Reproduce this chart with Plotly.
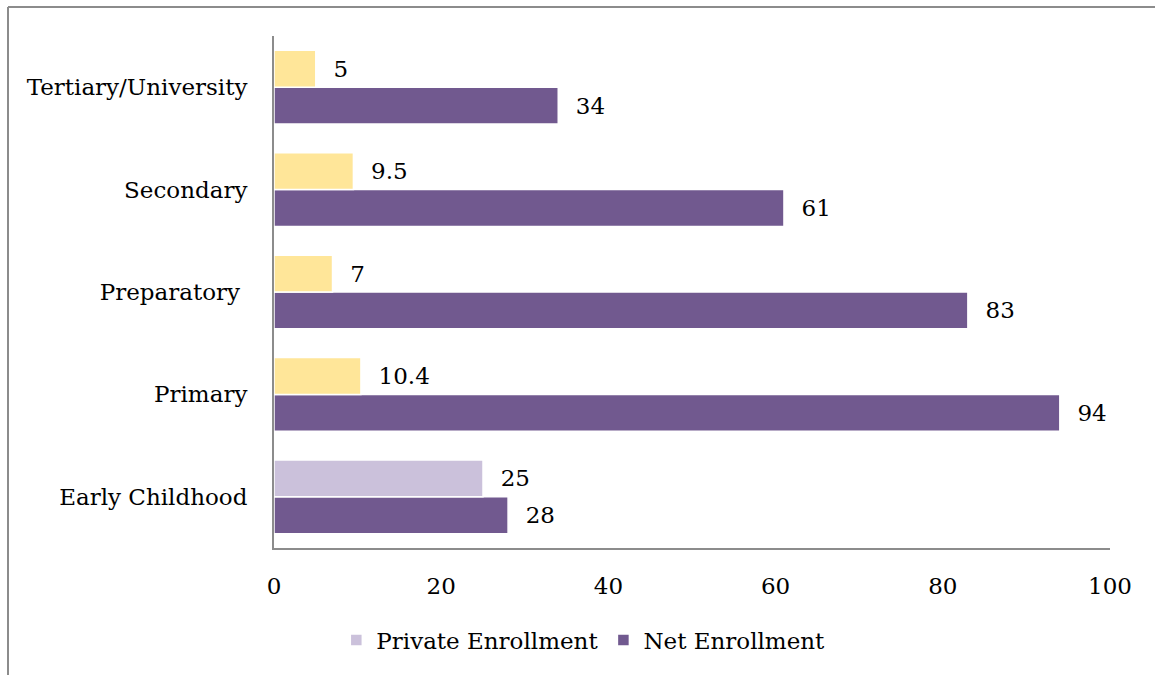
import plotly.graph_objects as go

categories = ["Early Childhood", "Primary", "Preparatory ", "Secondary", "Tertiary/University"]
private_enrollment = [25, 10.4, 7, 9.5, 5]
net_enrollment = [28, 94, 83, 61, 34]
private_colors = ["#CBC1DB", "#FFE699", "#FFE699", "#FFE699", "#FFE699"]
net_color = "#71598F"
x_ticks = [0, 20, 40, 60, 80, 100]

FONT = "DejaVu Serif"
FS = 23

fig = go.Figure()
fig.add_trace(go.Bar(
    y=categories, x=net_enrollment, orientation="h", name="Net Enrollment",
    marker=dict(color=net_color, line=dict(color="white", width=1.5)),
    text=[f"  {v:g}" for v in net_enrollment], textposition="outside",
    textfont=dict(family=FONT, size=FS, color="black"), cliponaxis=False,
    legendrank=2,
))
fig.add_trace(go.Bar(
    y=categories, x=private_enrollment, orientation="h", name="Private Enrollment",
    marker=dict(color=private_colors, line=dict(color="white", width=1.5)),
    text=[f"  {v:g}" for v in private_enrollment], textposition="outside",
    textfont=dict(family=FONT, size=FS, color="black"), cliponaxis=False,
    legendrank=1,
))

L, R, T, B = 274, 45, 36, 127
W, H = 1155, 675
pw = W - L - R
ph = H - T - B

def px_x(p):
    return (p - L) / pw

def px_y(p):
    return (H - B - p) / ph

fig.update_layout(
    width=W, height=H,
    margin=dict(l=L, r=R, t=T, b=B),
    paper_bgcolor="white", plot_bgcolor="white",
    font=dict(family=FONT, size=FS, color="black"),
    barmode="group", bargap=0.28, bargroupgap=0.0,
    uniformtext=dict(mode=False),
    xaxis=dict(range=[0, 100], tickvals=x_ticks, showgrid=False, zeroline=False,
               showline=True, linecolor="#8C8C8C", linewidth=2,
               ticks="", ticklabelstandoff=16,
               tickfont=dict(family=FONT, size=FS, color="black")),
    yaxis=dict(showgrid=False, zeroline=False, showline=True, linecolor="#8C8C8C",
               linewidth=2, ticks="", ticklabelstandoff=20,
               categoryorder="array", categoryarray=categories,
               tickfont=dict(family=FONT, size=FS, color="black")),
    legend=dict(orientation="h", x=0.37, xanchor="center", y=px_y(640), yanchor="middle",
                font=dict(family=FONT, size=FS, color="black"),
                itemwidth=30, traceorder="normal"),
    showlegend=True,
    shapes=[
        dict(type="line", xref="paper", yref="paper",
             x0=px_x(8), x1=px_x(8), y0=px_y(7), y1=px_y(676),
             line=dict(color="#8C8C8C", width=2)),
        dict(type="line", xref="paper", yref="paper",
             x0=px_x(8), x1=px_x(1156), y0=px_y(7), y1=px_y(7),
             line=dict(color="#8C8C8C", width=2)),
    ],
)

fig.write_html("out.html")
